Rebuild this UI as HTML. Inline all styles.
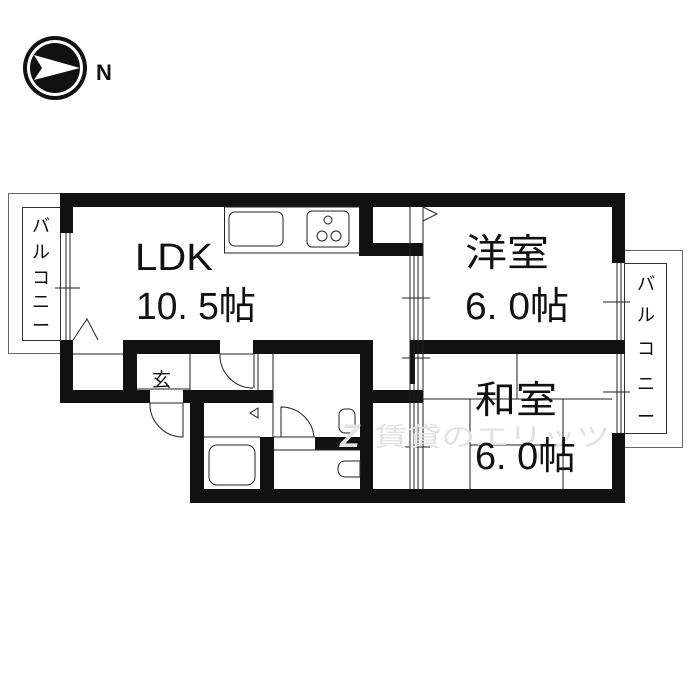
<!DOCTYPE html>
<html><head><meta charset="utf-8"><style>
html,body{margin:0;padding:0;background:#fff;}
svg{display:block;}
text{font-family:"Liberation Sans","Noto Sans CJK JP",sans-serif;fill:#111;}
</style></head><body>
<svg width="700" height="700" viewBox="0 0 700 700" xmlns="http://www.w3.org/2000/svg">
<!-- compass -->
<circle cx="55" cy="68" r="32" fill="#111"/>
<circle cx="55" cy="68" r="28" fill="#fff"/>
<circle cx="55" cy="68" r="25" fill="#111"/>
<polygon points="34,55 80,68 34,80 42,68" fill="#fff"/>
<text x="96" y="80" font-size="22" font-weight="bold">N</text>

<!-- left balcony -->
<rect x="8.5" y="193.5" width="52" height="160" fill="none" stroke="#666" stroke-width="1"/>
<rect x="22.5" y="207.5" width="38" height="133" fill="none" stroke="#333" stroke-width="1"/>
<text x="41" y="232" font-size="18" text-anchor="middle">バ</text>
<text x="41" y="258" font-size="18" text-anchor="middle">ル</text>
<text x="41" y="284" font-size="18" text-anchor="middle">コ</text>
<text x="41" y="308" font-size="18" text-anchor="middle">ニ</text>
<text x="41" y="332" font-size="18" text-anchor="middle">ー</text>

<!-- right balcony -->
<rect x="624.5" y="250.5" width="58" height="197" fill="none" stroke="#666" stroke-width="1"/>
<rect x="624.5" y="263.5" width="42" height="170" fill="none" stroke="#333" stroke-width="1"/>
<text x="646" y="290" font-size="18" text-anchor="middle">バ</text>
<text x="646" y="321" font-size="18" text-anchor="middle">ル</text>
<text x="646" y="355" font-size="18" text-anchor="middle">コ</text>
<text x="646" y="390" font-size="18" text-anchor="middle">ニ</text>
<text x="646" y="423" font-size="18" text-anchor="middle">ー</text>

<g fill="#111">
<rect x="60" y="193" width="565" height="14"/>
<rect x="60" y="193" width="13" height="40"/>
<rect x="60" y="340" width="13" height="63"/>
<rect x="60" y="390" width="90" height="13"/>
<rect x="183" y="390" width="90" height="13"/>
<rect x="190" y="390" width="14" height="113"/>
<rect x="190" y="489" width="435" height="14"/>
<rect x="612" y="193" width="13" height="70"/>
<rect x="612" y="433" width="13" height="70"/>
<rect x="123" y="340" width="97" height="14"/>
<rect x="253" y="340" width="120" height="14"/>
<rect x="123" y="340" width="14" height="63"/>
<rect x="360" y="340" width="13" height="150"/>
<rect x="373" y="390" width="50" height="13"/>
<rect x="359" y="193" width="14" height="63"/>
<rect x="359" y="243" width="64" height="13"/>
<rect x="410" y="340" width="215" height="14"/>
<rect x="410" y="354" width="5" height="30"/>
<rect x="260" y="437" width="14" height="53"/>
<rect x="315" y="437" width="45" height="13"/>
</g>

<g fill="none" stroke="#222" stroke-width="1">
<line x1="66" y1="233" x2="66" y2="340"/><line x1="70" y1="233" x2="70" y2="340"/>
<line x1="55" y1="288" x2="80" y2="288"/>
<line x1="617" y1="263" x2="617" y2="340"/><line x1="621" y1="263" x2="621" y2="340"/>
<line x1="617" y1="354" x2="617" y2="433"/><line x1="621" y1="354" x2="621" y2="433"/>
<line x1="603" y1="302" x2="630" y2="302"/><line x1="603" y1="392" x2="630" y2="392"/>
<line x1="410" y1="207" x2="410" y2="489"/><line x1="414" y1="256" x2="414" y2="489"/>
<line x1="418" y1="256" x2="418" y2="489"/><line x1="423" y1="207" x2="423" y2="489"/>
<line x1="402" y1="298" x2="430" y2="298"/><line x1="402" y1="358" x2="430" y2="358"/>
<line x1="402" y1="447" x2="430" y2="447"/>
<polygon points="423,207 437,214 423,221"/>
<rect x="224.5" y="207" width="135" height="46"/>
<rect x="229" y="212" width="54" height="34" rx="6"/>
<rect x="307" y="211" width="42" height="36" rx="5"/>
<circle cx="328" cy="220" r="4"/><circle cx="322" cy="236" r="5"/><circle cx="336" cy="236" r="5"/>
<polyline points="73,340 87,319 98,340"/>
<line x1="73" y1="354" x2="123" y2="354"/>
<line x1="137" y1="389" x2="190" y2="389"/>
<line x1="190" y1="354" x2="190" y2="390"/>
<line x1="150" y1="403" x2="183" y2="403"/>
<path d="M183,403 L183,437 A33,33 0 0 1 150,403"/>
<line x1="220" y1="354" x2="253" y2="354"/>
<line x1="254" y1="354" x2="254" y2="388"/><line x1="258" y1="354" x2="258" y2="390"/>
<path d="M253,388 A33,33 0 0 1 220,354"/>
<line x1="273" y1="354" x2="273" y2="437"/>
<line x1="204" y1="437" x2="260" y2="437"/>
<rect x="209" y="445" width="46" height="40" rx="8"/>
<polygon points="258,408 250,413 258,418"/>
<line x1="274" y1="450" x2="360" y2="450"/>
<line x1="274" y1="437" x2="315" y2="437"/>
<path d="M281,407 A33,33 0 0 1 314,437 L281,437 Z"/>
<rect x="339" y="409" width="16" height="24" rx="6"/>
<path d="M346,461 q-8,0 -8,8 q0,8 8,8 l14,0 l0,-16 z"/>
<line x1="517" y1="354" x2="517" y2="399"/>
<line x1="423" y1="399" x2="612" y2="399"/>
<line x1="470" y1="399" x2="470" y2="489"/>
<line x1="563" y1="399" x2="563" y2="489"/>
<line x1="470" y1="445" x2="563" y2="445"/>
</g>

<text x="340" y="447" font-size="32" font-weight="bold" style="fill:#e2e2e2" font-style="italic">Z</text>
<text x="374" y="446" font-size="26" style="fill:#e2e2e2" textLength="236" lengthAdjust="spacingAndGlyphs">賃貸のエリッツ</text>

<text x="135" y="270" font-size="38" textLength="78" lengthAdjust="spacingAndGlyphs">LDK</text>
<text x="136" y="319" font-size="38" textLength="120" lengthAdjust="spacingAndGlyphs">10. 5帖</text>
<text x="465" y="266" font-size="38" textLength="84" lengthAdjust="spacingAndGlyphs">洋室</text>
<text x="465" y="319" font-size="38" textLength="104" lengthAdjust="spacingAndGlyphs">6. 0帖</text>
<text x="475" y="413" font-size="38" textLength="82" lengthAdjust="spacingAndGlyphs">和室</text>
<text x="475" y="469" font-size="38" textLength="101" lengthAdjust="spacingAndGlyphs">6. 0帖</text>
<text x="152" y="386" font-size="19">玄</text>
</svg>
</body></html>
